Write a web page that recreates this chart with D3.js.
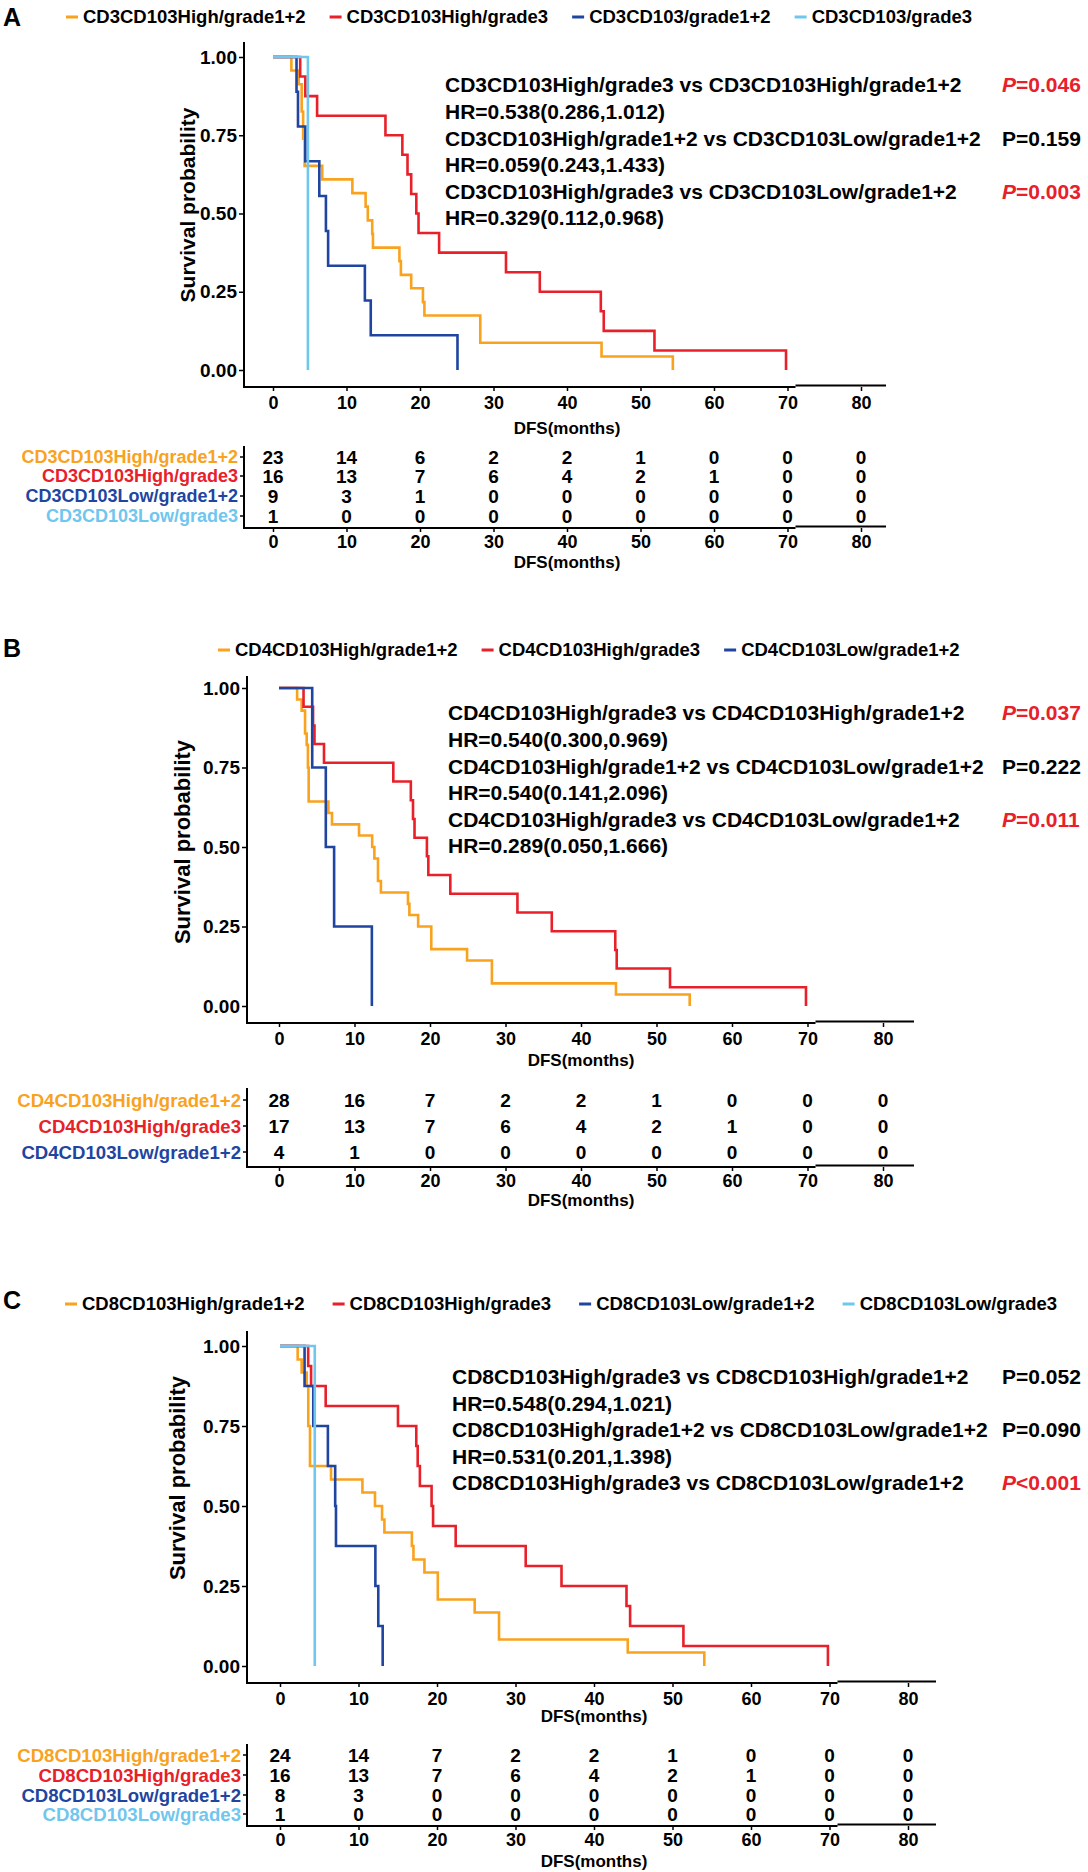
<!DOCTYPE html>
<html>
<head>
<meta charset="utf-8">
<script src="https://cdn.jsdelivr.net/npm/d3@7"></script>
<style>
  body { margin: 0; background: #fff; }
  svg text { font-family: "Liberation Sans", Arial, sans-serif; font-weight: bold; }
</style>
</head>
<body>
<svg id="fig" width="1088" height="1872"></svg>
<script>
// ---- shared ----
var months = [0, 10, 20, 30, 40, 50, 60, 70, 80];
var survTicks = [0, 0.25, 0.5, 0.75, 1];
var groupColors = ["#F9A21E", "#E8202A", "#1F45A0", "#6FC6EE"];

// ---- panel A : CD3 ----
var aLegend = ["CD3CD103High/grade1+2", "CD3CD103High/grade3", "CD3CD103/grade1+2", "CD3CD103/grade3"];
var aRowLabels = ["CD3CD103High/grade1+2", "CD3CD103High/grade3", "CD3CD103Low/grade1+2", "CD3CD103Low/grade3"];
var aHighG12 = [[0,1],[2.5,0.957],[3.5,0.913],[3.9,0.826],[4.1,0.739],[4.3,0.652],[6.7,0.609],[10.8,0.565],[12.6,0.522],[12.9,0.478],[13.5,0.435],[13.6,0.391],[17.2,0.348],[17.4,0.304],[18.8,0.261],[20.4,0.217],[20.6,0.174],[28.2,0.087],[44.7,0.043],[54.4,0]];
var aHighG3 = [[0,1],[3.7,0.9375],[4.4,0.875],[6.0,0.8125],[15.3,0.75],[17.6,0.6875],[18.3,0.625],[18.8,0.5625],[19.5,0.5],[19.8,0.4375],[22.6,0.375],[31.7,0.3125],[36.3,0.25],[44.6,0.1875],[45.0,0.125],[51.9,0.0625],[69.8,0]];
var aLowG12 = [[0,1],[3.2,0.889],[3.4,0.778],[4.4,0.667],[6.3,0.556],[7.2,0.444],[7.5,0.333],[12.5,0.222],[13.3,0.111],[25.1,0]];
var aLowG3 = [[0,1],[4.75,0]];
var aRisk = [
  [23, 14, 6, 2, 2, 1, 0, 0, 0],
  [16, 13, 7, 6, 4, 2, 1, 0, 0],
  [9, 3, 1, 0, 0, 0, 0, 0, 0],
  [1, 0, 0, 0, 0, 0, 0, 0, 0]
];
var aStats = ["CD3CD103High/grade3 vs CD3CD103High/grade1+2", "HR=0.538(0.286,1.012)",
  "CD3CD103High/grade1+2 vs CD3CD103Low/grade1+2", "HR=0.059(0.243,1.433)",
  "CD3CD103High/grade3 vs CD3CD103Low/grade1+2", "HR=0.329(0.112,0.968)"];
var aP = ["=0.046", "", "=0.159", "", "=0.003", ""];
var aSig = [1, 0, 0, 0, 1, 0];

// ---- panel B : CD4 ----
var bLegend = ["CD4CD103High/grade1+2", "CD4CD103High/grade3", "CD4CD103Low/grade1+2"];
var bRowLabels = ["CD4CD103High/grade1+2", "CD4CD103High/grade3", "CD4CD103Low/grade1+2"];
var bHighG12 = [[0,1],[2.4,0.964],[3.0,0.929],[3.45,0.857],[3.67,0.821],[3.83,0.75],[3.93,0.643],[6.54,0.607],[7.02,0.571],[10.6,0.536],[12.34,0.5],[12.63,0.464],[13.11,0.393],[13.5,0.357],[17.08,0.321],[17.27,0.286],[18.43,0.25],[20.17,0.179],[24.91,0.143],[28.2,0.071],[44.63,0.036],[54.4,0]];
var bHighG3 = [[0,1],[3.25,0.941],[4.51,0.882],[4.7,0.824],[5.96,0.765],[15.14,0.706],[17.46,0.647],[17.75,0.588],[17.95,0.529],[19.59,0.471],[19.78,0.412],[22.69,0.353],[31.58,0.294],[36.13,0.235],[44.54,0.176],[44.73,0.118],[51.79,0.059],[69.8,0]];
var bLowG12 = [[0,1],[4.4,0.75],[6.2,0.5],[7.3,0.25],[12.3,0]];
var bRisk = [
  [28, 16, 7, 2, 2, 1, 0, 0, 0],
  [17, 13, 7, 6, 4, 2, 1, 0, 0],
  [4, 1, 0, 0, 0, 0, 0, 0, 0]
];
var bStats = ["CD4CD103High/grade3 vs CD4CD103High/grade1+2", "HR=0.540(0.300,0.969)",
  "CD4CD103High/grade1+2 vs CD4CD103Low/grade1+2", "HR=0.540(0.141,2.096)",
  "CD4CD103High/grade3 vs CD4CD103Low/grade1+2", "HR=0.289(0.050,1.666)"];
var bP = ["=0.037", "", "=0.222", "", "=0.011", ""];
var bSig = [1, 0, 0, 0, 1, 0];

// ---- panel C : CD8 ----
var cLegend = ["CD8CD103High/grade1+2", "CD8CD103High/grade3", "CD8CD103Low/grade1+2", "CD8CD103Low/grade3"];
var cRowLabels = ["CD8CD103High/grade1+2", "CD8CD103High/grade3", "CD8CD103Low/grade1+2", "CD8CD103Low/grade3"];
var cHighG12 = [[0,1],[2.25,0.958],[2.76,0.917],[3.4,0.875],[3.6,0.75],[3.82,0.625],[6.5,0.583],[10.5,0.542],[12.1,0.5],[13.0,0.458],[13.3,0.417],[16.8,0.375],[17.0,0.333],[18.4,0.292],[20.1,0.208],[24.8,0.167],[27.9,0.083],[44.3,0.042],[54.05,0]];
var cHighG3 = [[0,1],[3.59,0.9375],[3.96,0.875],[5.82,0.8125],[15.03,0.75],[17.36,0.6875],[17.54,0.625],[17.82,0.5625],[19.31,0.5],[19.5,0.4375],[22.38,0.375],[31.3,0.3125],[35.86,0.25],[44.14,0.1875],[44.6,0.125],[51.39,0.0625],[69.8,0]];
var cLowG12 = [[0,1],[3.13,0.875],[4.24,0.75],[6.1,0.625],[7.03,0.5],[7.13,0.375],[12.15,0.25],[12.52,0.125],[13.08,0]];
var cLowG3 = [[0,1],[4.43,0]];
var cRisk = [
  [24, 14, 7, 2, 2, 1, 0, 0, 0],
  [16, 13, 7, 6, 4, 2, 1, 0, 0],
  [8, 3, 0, 0, 0, 0, 0, 0, 0],
  [1, 0, 0, 0, 0, 0, 0, 0, 0]
];
var cStats = ["CD8CD103High/grade3 vs CD8CD103High/grade1+2", "HR=0.548(0.294,1.021)",
  "CD8CD103High/grade1+2 vs CD8CD103Low/grade1+2", "HR=0.531(0.201,1.398)",
  "CD8CD103High/grade3 vs CD8CD103Low/grade1+2"];
var cP = ["=0.052", "", "=0.090", "", "<0.001"];
var cSig = [0, 0, 0, 0, 1];

// layout of each panel (pixels)
var layoutA = { letterY: 17, legX: 66, legY: 17, legGap: 24,
  x0: 273, x80: 861, y1: 57, y0: 370, axisX: 244, axisTop: 42, axisY: 387, axisRight: 886,
  ylabX: 188, ylabY: 205, ylabSize: 21, dfsY: 428,
  statX: 445, statY: 85, statDy: 26.6, pX: 1002,
  rowY: [457, 476, 496, 516], tabTop: 446, tabBot: 528, dfs2Y: 562, rowSize: 18 };
var layoutB = { letterY: 648, legX: 218, legY: 650, legGap: 24,
  x0: 279, x80: 883, y1: 688, y0: 1006, axisX: 247, axisTop: 676, axisY: 1023, axisRight: 914,
  ylabX: 182, ylabY: 842, ylabSize: 22, dfsY: 1060,
  statX: 448, statY: 713, statDy: 26.6, pX: 1002,
  rowY: [1100, 1126, 1152], tabTop: 1088, tabBot: 1167, dfs2Y: 1200, rowSize: 18.6 };
var layoutC = { letterY: 1300, legX: 65, legY: 1304, legGap: 28,
  x0: 280, x80: 908, y1: 1346, y0: 1666, axisX: 247, axisTop: 1331, axisY: 1683, axisRight: 936,
  ylabX: 177, ylabY: 1478, ylabSize: 22, dfsY: 1716,
  statX: 452, statY: 1377, statDy: 26.5, pX: 1002,
  rowY: [1755, 1775, 1795, 1814], tabTop: 1744, tabBot: 1826, dfs2Y: 1861, rowSize: 18.6 };

var svg = d3.select("#fig");

// horizontal axis line with the small raised piece after 70 seen in the figure
function axisLine(g, x, L, yy) {
  var brk = x(70) + 8;
  g.append("line").attr("x1", L.axisX).attr("x2", brk).attr("y1", yy).attr("y2", yy)
    .attr("stroke", "#000").attr("stroke-width", 2);
  g.append("line").attr("x1", brk).attr("x2", L.axisRight).attr("y1", yy - 1.5).attr("y2", yy - 1.5)
    .attr("stroke", "#000").attr("stroke-width", 2);
}

function styleAxis(sel) {
  sel.select(".domain").remove();
  sel.selectAll("text").attr("font-size", 18).attr("fill", "#000");
  sel.selectAll("line").attr("stroke-width", 1.5);
}

function drawPanel(L, letter, legend, rowLabels, curves, risk, stats, pvals, sig) {
  var g = svg.append("g");
  var x = d3.scaleLinear().domain([0, 80]).range([L.x0, L.x80]);
  var y = d3.scaleLinear().domain([0, 1]).range([L.y0, L.y1]);

  // panel letter
  g.append("text").attr("x", 3).attr("y", L.letterY).attr("dy", "0.35em")
    .attr("font-size", 25).text(letter);

  // legend
  var lx = L.legX;
  legend.forEach(function(lab, i) {
    g.append("line").attr("x1", lx).attr("x2", lx + 12)
      .attr("y1", L.legY).attr("y2", L.legY)
      .attr("stroke", groupColors[i]).attr("stroke-width", 3);
    var t = g.append("text").attr("x", lx + 17).attr("y", L.legY).attr("dy", "0.35em")
      .attr("font-size", 18.5).text(lab);
    lx += 17 + t.node().getComputedTextLength() + L.legGap;
  });

  // axes
  var yAxis = d3.axisLeft(y).tickValues(survTicks).tickFormat(d3.format(".2f"))
    .tickSize(5).tickPadding(2);
  var ya = g.append("g").attr("transform", "translate(" + L.axisX + ",0)").call(yAxis);
  styleAxis(ya);
  ya.selectAll("text").attr("font-size", 19);

  var xAxis = d3.axisBottom(x).tickValues(months).tickSize(4).tickPadding(5);
  var xa = g.append("g").attr("transform", "translate(0," + L.axisY + ")").call(xAxis);
  styleAxis(xa);

  g.append("line").attr("x1", L.axisX).attr("x2", L.axisX)
    .attr("y1", L.axisTop).attr("y2", L.axisY + 1)
    .attr("stroke", "#000").attr("stroke-width", 2);
  axisLine(g, x, L, L.axisY);

  g.append("text").attr("transform", "translate(" + L.ylabX + "," + L.ylabY + ") rotate(-90)")
    .attr("text-anchor", "middle").attr("dy", "0.35em")
    .attr("font-size", L.ylabSize).text("Survival probability");
  g.append("text").attr("x", x(40)).attr("y", L.dfsY).attr("dy", "0.35em")
    .attr("text-anchor", "middle").attr("font-size", 17).text("DFS(months)");

  // survival curves
  var line = d3.line().x(function(d) { return x(d[0]); }).y(function(d) { return y(d[1]); })
    .curve(d3.curveStepAfter);
  curves.forEach(function(c, i) {
    g.append("path").attr("d", line(c)).attr("fill", "none")
      .attr("stroke", groupColors[i]).attr("stroke-width", 2.6);
  });

  // statistics text
  stats.forEach(function(s, i) {
    var yy = L.statY + i * L.statDy;
    g.append("text").attr("x", L.statX).attr("y", yy).attr("dy", "0.35em")
      .attr("font-size", 21).text(s);
    if (pvals[i]) {
      var col = sig[i] ? "#E8202A" : "#000";
      var pt = g.append("text").attr("x", L.pX).attr("y", yy).attr("dy", "0.35em")
        .attr("font-size", 21).attr("fill", col);
      pt.append("tspan").attr("font-style", sig[i] ? "italic" : "normal").text("P");
      pt.append("tspan").text(pvals[i]);
    }
  });

  // numbers at risk table
  rowLabels.forEach(function(lab, i) {
    g.append("text").attr("x", L.axisX - 6).attr("y", L.rowY[i]).attr("dy", "0.35em")
      .attr("text-anchor", "end").attr("font-size", L.rowSize)
      .attr("fill", groupColors[i]).text(lab);
    g.append("line").attr("x1", L.axisX - 4).attr("x2", L.axisX)
      .attr("y1", L.rowY[i]).attr("y2", L.rowY[i]).attr("stroke", "#000").attr("stroke-width", 1.5);
    g.selectAll(null).data(risk[i]).enter().append("text")
      .attr("x", function(d, j) { return x(months[j]); })
      .attr("y", L.rowY[i]).attr("dy", "0.35em")
      .attr("text-anchor", "middle").attr("font-size", 19)
      .text(function(d) { return d; });
  });
  g.append("line").attr("x1", L.axisX).attr("x2", L.axisX)
    .attr("y1", L.tabTop).attr("y2", L.tabBot + 1)
    .attr("stroke", "#000").attr("stroke-width", 2);
  axisLine(g, x, L, L.tabBot);
  var xa2 = g.append("g").attr("transform", "translate(0," + L.tabBot + ")")
    .call(xAxis.tickPadding(3));
  styleAxis(xa2);
  g.append("text").attr("x", x(40)).attr("y", L.dfs2Y).attr("dy", "0.35em")
    .attr("text-anchor", "middle").attr("font-size", 17).text("DFS(months)");
}

drawPanel(layoutA, "A", aLegend, aRowLabels, [aHighG12, aHighG3, aLowG12, aLowG3], aRisk, aStats, aP, aSig);
drawPanel(layoutB, "B", bLegend, bRowLabels, [bHighG12, bHighG3, bLowG12], bRisk, bStats, bP, bSig);
drawPanel(layoutC, "C", cLegend, cRowLabels, [cHighG12, cHighG3, cLowG12, cLowG3], cRisk, cStats, cP, cSig);
</script>
</body>
</html>
